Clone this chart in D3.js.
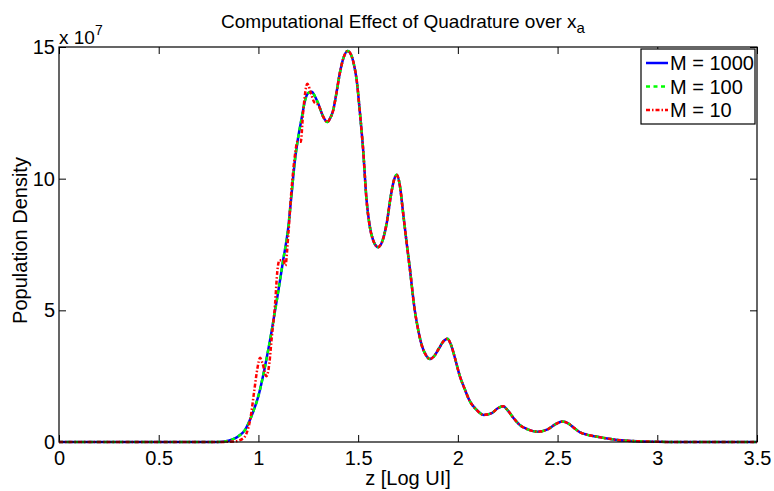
<!DOCTYPE html>
<html>
<head>
<meta charset="utf-8">
<script src="https://cdnjs.cloudflare.com/ajax/libs/d3/7.8.5/d3.min.js"></script>
<style>
body { margin:0; background:#fff; }
svg text { font-family: "Liberation Sans", Arial, Helvetica, sans-serif; fill:#000; }
</style>
</head>
<body>
<svg id="chart" width="774" height="491"></svg>
<script>

// data, x = z [Log UI], y in units of 1e7
var m1000 = [
  [0,0],[0.5,0],[0.78,0],[0.83,0.02],[0.87,0.1],[0.9,0.22],[0.932,0.45],[0.966,1.0],
  [1.0,1.75],[1.033,2.87],[1.066,4.2],[1.099,5.7],[1.124,6.9],[1.149,8.1],[1.166,9.4],
  [1.183,10.7],[1.2,11.6],[1.217,12.3],[1.233,12.95],[1.25,13.25],[1.267,13.3],[1.285,13.1],
  [1.3,12.85],[1.325,12.35],[1.345,12.15],[1.36,12.3],[1.375,12.6],[1.39,13.2],[1.408,14.0],
  [1.425,14.55],[1.447,14.85],[1.465,14.7],[1.48,14.3],[1.492,13.78],[1.509,12.5],[1.525,11.1],
  [1.542,9.2],[1.558,8.2],[1.574,7.69],[1.6,7.4],[1.62,7.6],[1.643,8.3],[1.665,9.4],[1.68,9.95],
  [1.693,10.15],[1.71,9.7],[1.724,8.8],[1.741,7.7],[1.759,6.6],[1.784,5.0],[1.8,4.3],[1.818,3.7],
  [1.84,3.3],[1.86,3.15],[1.88,3.25],[1.905,3.55],[1.925,3.8],[1.948,3.92],[1.965,3.7],[1.985,3.2],
  [2.01,2.5],[2.035,2.0],[2.06,1.55],[2.09,1.25],[2.13,1.03],[2.17,1.1],[2.2,1.28],[2.227,1.36],
  [2.25,1.2],[2.28,0.9],[2.31,0.65],[2.35,0.48],[2.4,0.39],[2.45,0.48],[2.49,0.68],[2.525,0.78],
  [2.555,0.7],[2.58,0.55],[2.61,0.38],[2.65,0.27],[2.7,0.2],[2.75,0.13],[2.8,0.08],[2.85,0.05],
  [2.9,0.03],[3.0,0.01],[3.1,0],[3.5,0]
];

// M = 100 sits right on top of M = 1000
var m100 = m1000.map(function(d){ return [d[0], d[1]]; });

// M = 10 has the little steps on the way up
var m10 = [
  [0,0],[0.5,0],[0.8,0],[0.88,0.02],[0.92,0.12],[0.94,0.32],[0.96,0.9],[0.98,2.0],[0.995,2.8],
  [1.008,3.2],[1.02,3.0],[1.04,2.5],[1.055,3.0],[1.066,3.9],[1.083,5.2],[1.095,6.5],[1.105,6.9],
  [1.125,6.9],[1.135,6.7],[1.15,7.9],[1.165,9.5],[1.185,11.0],[1.195,11.4],[1.212,11.4],
  [1.225,12.6],[1.245,13.6],[1.265,13.2],[1.28,12.9],[1.3,12.8],[1.325,12.35],[1.345,12.15],
  [1.36,12.3],[1.375,12.6],[1.39,13.2],[1.408,14.0],[1.425,14.55],[1.447,14.85],[1.465,14.7],
  [1.48,14.3],[1.492,13.78],[1.509,12.5],[1.525,11.1],[1.542,9.2],[1.558,8.2],[1.574,7.69],
  [1.6,7.4],[1.62,7.6],[1.643,8.3],[1.665,9.4],[1.68,9.95],[1.693,10.15],[1.71,9.7],[1.724,8.8],
  [1.741,7.7],[1.759,6.6],[1.784,5.0],[1.8,4.3],[1.818,3.7],[1.84,3.3],[1.86,3.15],[1.88,3.25],
  [1.905,3.55],[1.925,3.8],[1.948,3.92],[1.965,3.7],[1.985,3.2],[2.01,2.5],[2.035,2.0],[2.06,1.55],
  [2.09,1.25],[2.13,1.03],[2.17,1.1],[2.2,1.28],[2.227,1.36],[2.25,1.2],[2.28,0.9],[2.31,0.65],
  [2.35,0.48],[2.4,0.39],[2.45,0.48],[2.49,0.68],[2.525,0.78],[2.555,0.7],[2.58,0.55],[2.61,0.38],
  [2.65,0.27],[2.7,0.2],[2.75,0.13],[2.8,0.08],[2.85,0.05],[2.9,0.03],[3.0,0.01],[3.1,0],[3.5,0]
];

var xTicks = [0, 0.5, 1, 1.5, 2, 2.5, 3, 3.5];
var yTicks = [0, 5, 10, 15];
var legendNames = ["M = 1000", "M = 100", "M = 10"];

var svg = d3.select("#chart");
// plot box edges (don't call one of these "top", it clashes with window.top)
var pL = 59, pR = 757, pT = 47, pB = 442;

var x = d3.scaleLinear().domain([0, 3.5]).range([pL, pR]);
var y = d3.scaleLinear().domain([0, 15]).range([pB, pT]);

// axes, ticks point inwards like matlab
var fs = "20px";
var gx = svg.append("g").attr("transform", "translate(0," + pB + ")")
    .call(d3.axisBottom(x).tickValues(xTicks).tickFormat(d3.format("")).tickSizeInner(-7).tickSizeOuter(0).tickPadding(9));
var gxt = svg.append("g").attr("transform", "translate(0," + pT + ")")
    .call(d3.axisTop(x).tickValues(xTicks).tickFormat("").tickSizeInner(-7).tickSizeOuter(0));
var gy = svg.append("g").attr("transform", "translate(" + pL + ",0)")
    .call(d3.axisLeft(y).tickValues(yTicks).tickSizeInner(-7).tickSizeOuter(0).tickPadding(4));
var gyr = svg.append("g").attr("transform", "translate(" + pR + ",0)")
    .call(d3.axisRight(y).tickValues(yTicks).tickFormat("").tickSizeInner(-7).tickSizeOuter(0));

[gx, gxt, gy, gyr].forEach(function(g){
    g.select(".domain").remove();
    g.selectAll("line").attr("stroke", "#000").attr("stroke-width", 1);
    g.selectAll("text").style("font-size", fs).attr("fill", "#000");
});

// the 3 curves
var line = d3.line()
    .x(function(d){ return x(d[0]); })
    .y(function(d){ return y(d[1]); })
    .curve(d3.curveMonotoneX);

var series = [
  {data: m1000, color: "#0000ff", dash: null},
  {data: m100, color: "#00ff00", dash: "4,3.5"},
  {data: m10, color: "#ff0000", dash: "4,2,1.5,2"}
];

series.forEach(function(s){
    svg.append("path")
        .attr("d", line(s.data))
        .attr("fill", "none")
        .attr("stroke", s.color)
        .attr("stroke-width", 2.5)
        .attr("stroke-dasharray", s.dash);
});

// box
svg.append("rect")
    .attr("x", pL).attr("y", pT)
    .attr("width", pR - pL).attr("height", pB - pT)
    .attr("fill", "none").attr("stroke", "#000").attr("stroke-width", 1.2);

// legend
var lg = svg.append("g");
lg.append("rect")
    .attr("x", 641).attr("y", 49).attr("width", 114).attr("height", 75)
    .attr("fill", "#fff").attr("stroke", "#000").attr("stroke-width", 1.2);
legendNames.forEach(function(name, i){
    var ly = 63 + i * 23.5;
    lg.append("line")
        .attr("x1", 646).attr("x2", 668).attr("y1", ly).attr("y2", ly)
        .attr("stroke", series[i].color).attr("stroke-width", 2.5)
        .attr("stroke-dasharray", series[i].dash);
    lg.append("text")
        .attr("x", 670).attr("y", ly).attr("dy", "0.35em")
        .style("font-size", fs)
        .text(name);
});

// titles
var title = svg.append("text")
    .attr("x", 403).attr("y", 28)
    .attr("text-anchor", "middle")
    .style("font-size", "19px");
title.append("tspan").text("Computational Effect of Quadrature over x");
title.append("tspan").attr("dy", 5).style("font-size", "15px").text("a");

svg.append("text")
    .attr("x", 408).attr("y", 485)
    .attr("text-anchor", "middle")
    .style("font-size", fs)
    .text("z [Log UI]");

svg.append("text")
    .attr("transform", "translate(27," + ((pT + pB) / 2 - 4) + ") rotate(-90)")
    .attr("text-anchor", "middle")
    .style("font-size", fs)
    .text("Population Density");

// exponent over the y axis
var ex = svg.append("text")
    .attr("x", 59).attr("y", 44)
    .style("font-size", "19px");
ex.append("tspan").text("x 10");
ex.append("tspan").attr("dy", -9).style("font-size", "14px").text("7");

</script>
</body>
</html>
